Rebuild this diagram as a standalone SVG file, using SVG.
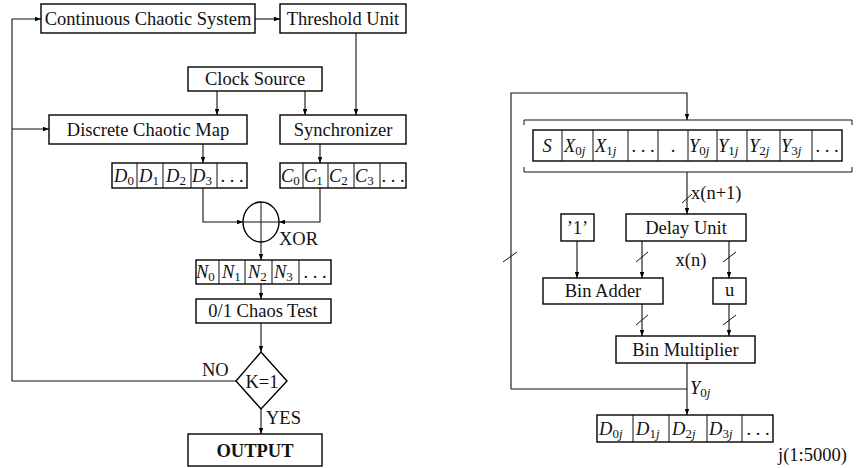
<svg xmlns="http://www.w3.org/2000/svg" width="859" height="468" viewBox="0 0 859 468" font-family="'Liberation Serif', 'Times New Roman', serif">
<defs>
<marker id="ah" viewBox="0 0 8 6" refX="8" refY="3" markerWidth="6" markerHeight="4.5" markerUnits="userSpaceOnUse" orient="auto"><path d="M0,0 L8,3 L0,6 Z" fill="#000"/></marker>
</defs>
<style>
.b{fill:#fff;stroke:#000;stroke-width:1.4}
.c{fill:none;stroke:#111;stroke-width:1.1}
.a{fill:none;stroke:#111;stroke-width:1.1;marker-end:url(#ah)}
.s{fill:none;stroke:#111;stroke-width:1}
text{font-family:'Liberation Serif','Times New Roman',serif;font-size:18.5px;fill:#111}
.t{text-anchor:middle}
.m{font-style:italic}
.sub{font-size:13px;font-style:normal}
</style>
<rect width="859" height="468" fill="#fff"/>
<g id="connectors">
<path class="a" d="M236,381 H12 V19 H41"/>
<path class="a" d="M12,129 H49"/>
<path class="a" d="M255,19 H280"/>
<path class="a" d="M356,33 V115"/>
<path class="a" d="M217,91 V115"/>
<path class="a" d="M305,91 V115"/>
<path class="a" d="M203,144 V163"/>
<path class="a" d="M320,144 V163"/>
<path class="a" d="M203,188 V222 H243"/>
<path class="a" d="M320,188 V222 H279"/>
<path class="a" d="M261,242 V260"/>
<path class="a" d="M261,284 V299"/>
<path class="a" d="M261,323 V352"/>
<path class="a" d="M261,409 V434"/>
<path class="a" d="M511,389 V93 H687 V120"/>
<path class="a" d="M687,172 V214"/>
<path class="a" d="M577,241 V278"/>
<path class="a" d="M642,241 V278"/>
<path class="a" d="M729,241 V278"/>
<path class="a" d="M642,304 V336"/>
<path class="a" d="M729,304 V336"/>
<path class="a" d="M687,363 V415"/>
<path class="c" d="M511,389 H687"/>
<path class="s" d="M682,203 L692,194 M636,262 L648,252 M723,262 L736,252 M636,325 L648,315 M723,325 L736,315 M503,262 L517,252"/>
</g>
<g id="ccs"><rect class="b" x="41" y="4" width="214" height="29"/><text class="t" x="148" y="25">Continuous Chaotic System</text></g>
<g id="threshold"><rect class="b" x="280" y="4" width="126" height="29"/><text class="t" x="343" y="25">Threshold Unit</text></g>
<g id="clock"><rect class="b" x="188" y="67" width="134" height="24"/><text class="t" x="255" y="85">Clock Source</text></g>
<g id="dcm"><rect class="b" x="49" y="115" width="198" height="29"/><text class="t" x="148" y="136">Discrete Chaotic Map</text></g>
<g id="sync"><rect class="b" x="280" y="115" width="126" height="29"/><text class="t" x="343" y="136">Synchronizer</text></g>
<g id="darray">
<rect class="b" x="112" y="163" width="135" height="25"/>
<path class="s" d="M137,163 V188 M163,163 V188 M191,163 V188 M217,163 V188"/>
<text class="m" x="114" y="182">D<tspan class="sub" dy="3">0</tspan></text>
<text class="m" x="139" y="182">D<tspan class="sub" dy="3">1</tspan></text>
<text class="m" x="166" y="182">D<tspan class="sub" dy="3">2</tspan></text>
<text class="m" x="192" y="182">D<tspan class="sub" dy="3">3</tspan></text>
<text class="t" x="232" y="182">. . .</text>
</g>
<g id="carray">
<rect class="b" x="280" y="163" width="126" height="25"/>
<path class="s" d="M303,163 V188 M328,163 V188 M354,163 V188 M380,163 V188"/>
<text class="m" x="281" y="182">C<tspan class="sub" dy="3">0</tspan></text>
<text class="m" x="304" y="182">C<tspan class="sub" dy="3">1</tspan></text>
<text class="m" x="329" y="182">C<tspan class="sub" dy="3">2</tspan></text>
<text class="m" x="355" y="182">C<tspan class="sub" dy="3">3</tspan></text>
<text class="t" x="393" y="182">. . .</text>
</g>
<g id="xor">
<ellipse class="b" cx="261" cy="222" rx="18" ry="20"/>
<path class="s" d="M243,222 H279 M261,202 V242"/>
<text x="279" y="245">XOR</text>
</g>
<g id="narray">
<rect class="b" x="196" y="260" width="135" height="24"/>
<path class="s" d="M219,260 V284 M245,260 V284 M272,260 V284 M299,260 V284"/>
<text class="m" x="196" y="278">N<tspan class="sub" dy="3">0</tspan></text>
<text class="m" x="222" y="278">N<tspan class="sub" dy="3">1</tspan></text>
<text class="m" x="248" y="278">N<tspan class="sub" dy="3">2</tspan></text>
<text class="m" x="274" y="278">N<tspan class="sub" dy="3">3</tspan></text>
<text class="t" x="315" y="278">. . .</text>
</g>
<g id="chaostest"><rect class="b" x="196" y="299" width="135" height="24"/><text class="t" x="263" y="317">0/1 Chaos Test</text></g>
<g id="decision">
<path class="b" d="M261,352 L287,381 L261,409 L236,381 Z"/>
<text class="t" x="262" y="388">K=1</text>
<text x="202" y="376">NO</text>
<text x="266" y="424">YES</text>
</g>
<g id="output"><rect class="b" x="188" y="434" width="134" height="32"/><text class="t" x="255" y="457" font-weight="bold">OUTPUT</text></g>
<g id="register">
<path class="s" d="M524,125 V120 H852 V125 M524,167 V172 H852 V167"/>
<rect class="b" x="533" y="130" width="309" height="31"/>
<path class="s" d="M562,130 V161 M593,130 V161 M628,130 V161 M658,130 V161 M688,130 V161 M717,130 V161 M747,130 V161 M780,130 V161 M812,130 V161"/>
<text class="m t" x="547" y="152">S</text>
<text class="m" x="564" y="152">X<tspan class="sub" dy="3">0<tspan font-style="italic">j</tspan></tspan></text>
<text class="m" x="595" y="152">X<tspan class="sub" dy="3">1<tspan font-style="italic">j</tspan></tspan></text>
<text class="t" x="643" y="152">. . .</text>
<text class="t" x="673" y="152">.</text>
<text class="m" x="689" y="152">Y<tspan class="sub" dy="3">0<tspan font-style="italic">j</tspan></tspan></text>
<text class="m" x="718" y="152">Y<tspan class="sub" dy="3">1<tspan font-style="italic">j</tspan></tspan></text>
<text class="m" x="749" y="152">Y<tspan class="sub" dy="3">2<tspan font-style="italic">j</tspan></tspan></text>
<text class="m" x="781" y="152">Y<tspan class="sub" dy="3">3<tspan font-style="italic">j</tspan></tspan></text>
<text class="t" x="827" y="152">. . .</text>
<text x="691" y="199">x(n+1)</text>
</g>
<g id="one"><rect class="b" x="561" y="214" width="33" height="27"/><text class="t" x="577.5" y="234">’1’</text></g>
<g id="delay"><rect class="b" x="626" y="214" width="120" height="27"/><text class="t" x="686" y="234">Delay Unit</text></g>
<g id="xn"><text class="t" x="691" y="266">x(n)</text></g>
<g id="adder"><rect class="b" x="543" y="278" width="120" height="26"/><text class="t" x="603" y="297">Bin Adder</text></g>
<g id="u"><rect class="b" x="713" y="278" width="33" height="26"/><text class="t" x="729.5" y="296">u</text></g>
<g id="mult"><rect class="b" x="616" y="336" width="139" height="27"/><text class="t" x="685.5" y="356">Bin Multiplier</text></g>
<g id="y0j"><text class="m" x="690" y="394" font-size="15">Y<tspan class="sub" dy="3" font-size="11">0<tspan font-style="italic">j</tspan></tspan></text></g>
<g id="outarray">
<rect class="b" x="597" y="415" width="176" height="27"/>
<path class="s" d="M633,415 V442 M669,415 V442 M707,415 V442 M742,415 V442"/>
<text class="m" x="599" y="435">D<tspan class="sub" dy="3">0<tspan font-style="italic">j</tspan></tspan></text>
<text class="m" x="636" y="435">D<tspan class="sub" dy="3">1<tspan font-style="italic">j</tspan></tspan></text>
<text class="m" x="672" y="435">D<tspan class="sub" dy="3">2<tspan font-style="italic">j</tspan></tspan></text>
<text class="m" x="709" y="435">D<tspan class="sub" dy="3">3<tspan font-style="italic">j</tspan></tspan></text>
<text class="t" x="758" y="435">. . .</text>
<text x="778" y="461">j(1:5000)</text>
</g>
</svg>
